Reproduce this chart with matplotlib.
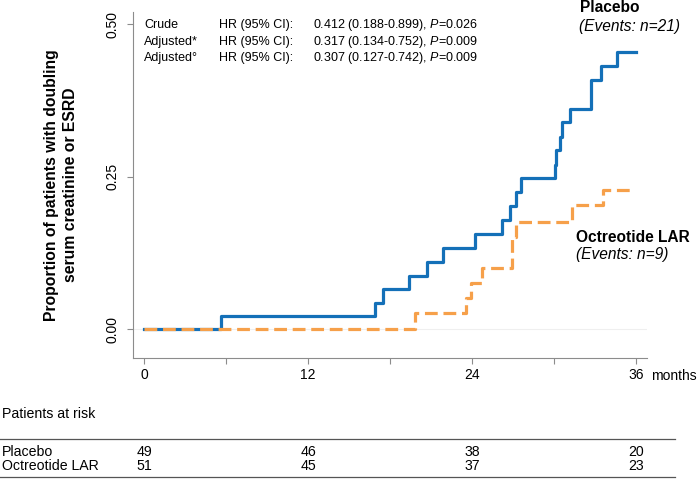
import matplotlib
matplotlib.use("Agg")
import matplotlib.pyplot as plt
import matplotlib.transforms as mtransforms

plt.rcParams['font.family'] = ['Liberation Sans', 'DejaVu Sans']
plt.rcParams['mathtext.fontset'] = 'custom'
plt.rcParams['mathtext.it'] = 'Liberation Sans:italic'
plt.rcParams['mathtext.rm'] = 'Liberation Sans'

# step curves (months, cumulative proportion)
placebo_time = [0, 5.6, 16.9, 17.45, 19.38, 20.67, 21.9, 24.2, 26.2, 26.8, 27.2, 27.6,
                30.07, 30.15, 30.43, 30.58, 31.2, 32.67, 32.7, 33.4, 34.6, 35.97]
placebo_prop = [0, 0.022, 0.043, 0.066, 0.087, 0.111, 0.133, 0.157, 0.179, 0.202, 0.225, 0.248,
                0.270, 0.294, 0.316, 0.340, 0.362, 0.385, 0.409, 0.431, 0.454, 0.454]
octreotide_time = [0, 19.82, 23.53, 23.9, 24.7, 26.9, 26.92, 27.2, 31.28, 33.56, 35.8]
octreotide_prop = [0, 0.026, 0.051, 0.076, 0.100, 0.126, 0.152, 0.176, 0.203, 0.228, 0.228]

risk_times = [0, 12, 24, 36]
placebo_risk = [49, 46, 38, 20]
octreotide_risk = [51, 45, 37, 23]

hr_rows = [("Crude", "0.412 (0.188-0.899)", "0.026"),
           ("Adjusted*", "0.317 (0.134-0.752)", "0.009"),
           ("Adjusted\u00b0", "0.307 (0.127-0.742)", "0.009")]

W, H = 700, 479
BLUE = "#1470b8"
ORANGE = "#f6a04a"
GREY = "#8c8c8c"

fig = plt.figure(figsize=(W / 100, H / 100), dpi=100)


def px(x, y):
    # pixel position (top-left origin) -> figure fraction
    return x / W, 1 - y / H


left, top = px(133.3, 11.7)
right, bottom = px(646.7, 358)
ax = fig.add_axes([left, bottom, right - left, top - bottom])

ax.axhline(0, color="#efefef", linewidth=0.8, zorder=0)
ax.step(placebo_time, placebo_prop, where="post", color=BLUE, linewidth=2.3, zorder=2)
ax.step(octreotide_time, octreotide_prop, where="post", color=ORANGE, linewidth=2.3,
        linestyle=(0, (4.0, 1.8)), zorder=3)

ax.set_xlim(-0.8, 36.78)
ax.set_ylim(-0.047, 0.5207)
ax.set_xticks([0, 12, 24, 36])
ax.set_xticks([6, 18, 30], minor=True)
ax.set_yticks([0, 0.25, 0.5])
ax.set_yticklabels(["0.00", "0.25", "0.50"], rotation=90, va="center")
ax.tick_params(axis="both", which="both", direction="out", length=4, width=0.8,
               color=GREY, labelsize=10, pad=3)
ax.tick_params(axis="x", which="minor", length=4, labelbottom=False)
ax.tick_params(axis="y", pad=6)

for side in ["top", "right"]:
    ax.spines[side].set_visible(False)
for side in ["left", "bottom"]:
    ax.spines[side].set_color(GREY)
    ax.spines[side].set_linewidth(0.8)

ax.set_ylabel("Proportion of patients with doubling\nserum creatinine or ESRD",
              fontsize=11.3, fontweight="bold", labelpad=20, linespacing=1.3)

# hazard ratio block
for i, (name, hr, p) in enumerate(hr_rows):
    y = 25 + i * 16.5
    fig.text(*px(144, y), name, fontsize=9, va="center")
    fig.text(*px(219, y), "HR (95% CI):", fontsize=9, va="center")
    fig.text(*px(313, y), f"{hr}, $\\it{{P}}$=" + p, fontsize=9, va="center")

# group labels
fig.text(*px(580, 8), "Placebo", fontsize=11.2, fontweight="bold", va="center")
fig.text(*px(579, 26.5), "(Events: n=21)", fontsize=11.2, style="italic", va="center")
fig.text(*px(576, 237), "Octreotide LAR", fontsize=11.2, fontweight="bold", va="center")
fig.text(*px(576, 255), "(Events: n=9)", fontsize=11.2, style="italic", va="center")

fig.text(*px(651, 375.5), "months", fontsize=10, va="center")

# patients at risk table
blend = mtransforms.blended_transform_factory(ax.transData, fig.transFigure)
fig.text(*px(2, 413.5), "Patients at risk", fontsize=10.2, va="center")
fig.add_artist(plt.Line2D([0, 675 / W], [px(0, 438.5)[1]] * 2, color="#555555", linewidth=0.9))
fig.add_artist(plt.Line2D([0, 675 / W], [px(0, 477)[1]] * 2, color="#555555", linewidth=0.9))
fig.text(*px(2, 452), "Placebo", fontsize=10.2, va="center")
fig.text(*px(2, 466), "Octreotide LAR", fontsize=10.2, va="center")
for t, a, b in zip(risk_times, placebo_risk, octreotide_risk):
    fig.text(t, px(0, 452)[1], str(a), fontsize=10.2, va="center", ha="center", transform=blend)
    fig.text(t, px(0, 466)[1], str(b), fontsize=10.2, va="center", ha="center", transform=blend)

fig.savefig("out.png", dpi=100)
